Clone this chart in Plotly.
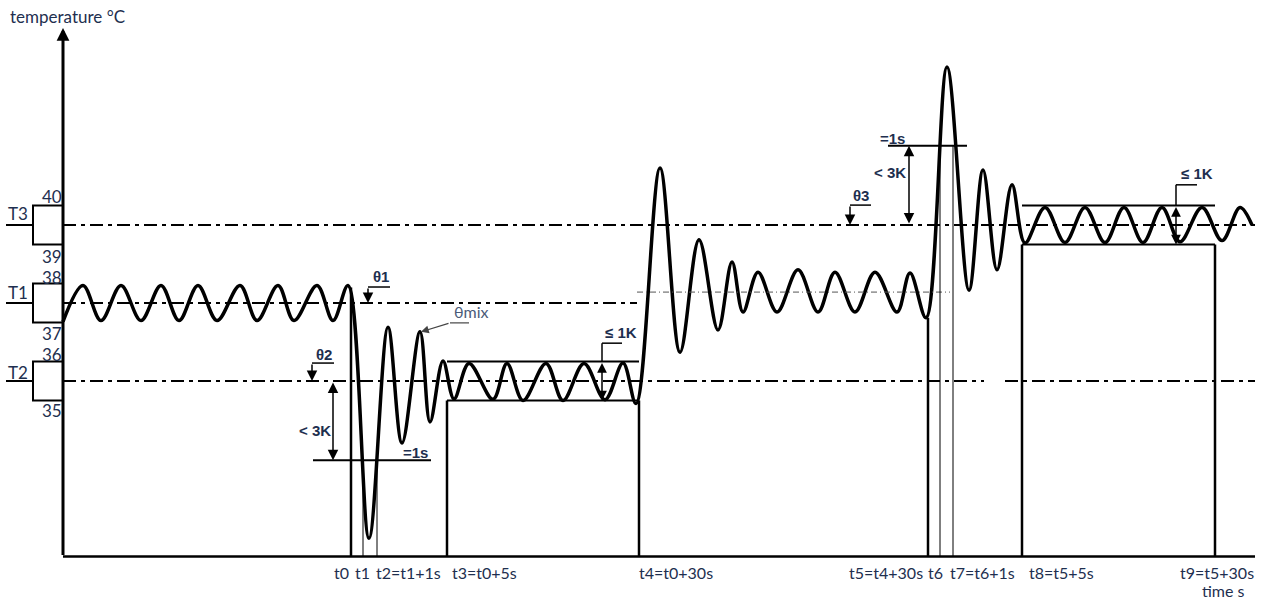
import plotly.graph_objects as go

W, H = 1265, 601

# ---------------- data ----------------
wave_time = [63, 83, 101, 121, 141, 161, 179, 198, 217, 240, 257, 278, 294, 317, 333, 348,
             369, 388, 402, 420, 430, 443, 454,
             469, 493, 507, 523, 546, 563, 584, 605, 623, 636,
             660, 680, 699, 718, 732, 743, 758, 777, 798, 818, 835, 855, 875, 897, 910, 926,
             947, 969, 983, 997, 1012, 1025,
             1045, 1065, 1085, 1105, 1124, 1143, 1162, 1180, 1202, 1222, 1240, 1252]
wave_temp = [37.02, 37.95, 37.05, 37.95, 37.05, 37.95, 37.05, 37.95, 37.05, 37.95, 37.05, 37.95, 37.05, 37.95, 37.05, 37.95,
             31.47, 36.88, 33.91, 36.76, 34.45, 36.01, 35.04,
             35.95, 35.03, 35.95, 35.0, 35.95, 35.0, 35.95, 35.02, 35.96, 34.92,
             40.96, 36.24, 39.12, 36.81, 38.55, 37.27, 38.29, 37.27, 38.35, 37.27, 38.29, 37.27, 38.29, 37.27, 38.27, 37.12,
             43.55, 37.83, 40.91, 38.35, 40.53, 39.04,
             39.95, 39.05, 39.95, 39.05, 39.95, 39.05, 39.95, 39.07, 39.95, 39.1, 39.95, 39.5]

T1, T2, T3 = 37.5, 35.5, 39.5
half_band = 0.5
mix_level = 37.78
temp_min, temp_max = 31.0, 44.55
time_min, time_max = 63, 1255
low_limit, high_limit = 33.47, 41.53

t_pos = [351, 363, 377, 447, 639, 928, 940, 953, 1022, 1215]
t_labels = ["t0", "t1", "t2=t1+1s", "t3=t0+5s", "t4=t0+30s", "t5=t4+30s", "t6", "t7=t6+1s", "t8=t5+5s", "t9=t5+30s"]
box_names = ["T3", "T1", "T2"]
box_levels = [T3, T1, T2]
box_hi = ["40", "38", "36"]
box_lo = ["39", "37", "35"]

# ---------------- styles ----------------
INK = "#1e2f4f"
DASHDOT = "13px,5px,4px,5px"
Y_RANGE = [29.859, 45.269]

fig = go.Figure()
fig.add_trace(go.Scatter(x=wave_time, y=wave_temp, mode="lines",
                         line=dict(color="black", width=3.5, shape="spline", smoothing=1.0),
                         hoverinfo="skip", showlegend=False))

shapes = []


def seg(x0, y0, x1, y1, width=2.0, dash=None, color="black"):
    d = dict(type="line", xref="x", yref="y", x0=x0, y0=y0, x1=x1, y1=y1,
             line=dict(color=color, width=width))
    if dash:
        d["line"]["dash"] = dash
    shapes.append(d)


# horizontal axis
seg(time_min, temp_min, time_max, temp_min, width=2.5)

# reference lines
seg(time_min, T3, time_max, T3, width=2, dash=DASHDOT)
seg(time_min, T1, t_pos[4] - 2, T1, width=2, dash=DASHDOT)
seg(time_min, T2, 984, T2, width=2, dash=DASHDOT)
seg(1005, T2, time_max, T2, width=2, dash=DASHDOT)
seg(t_pos[4] - 2, mix_level, 950, mix_level, width=1, dash="6px,3px,1px,3px", color="#555")

# left boxes
for lvl in box_levels:
    shapes.append(dict(type="rect", xref="x", yref="y", x0=33, x1=time_min,
                       y0=lvl - half_band, y1=lvl + half_band,
                       line=dict(color="black", width=2)))
    seg(6, lvl, 33, lvl, width=2)

# tolerance boxes
for a, b, lvl in [(t_pos[3], t_pos[4], T2), (t_pos[8], t_pos[9], T3)]:
    seg(a, lvl + half_band, b, lvl + half_band, width=2)
    seg(a, lvl - half_band, b, lvl - half_band, width=2)
    seg(a, lvl - half_band, a, temp_min, width=2.5)
    seg(b, lvl - half_band, b, temp_min, width=2.5)

# time marker lines
seg(t_pos[0], 37.9, t_pos[0], temp_min, width=2.5)
seg(t_pos[1], low_limit, t_pos[1], temp_min, width=1)
seg(t_pos[2], low_limit, t_pos[2], temp_min, width=1)
seg(t_pos[5], 37.12, t_pos[5], temp_min, width=2.5)
seg(t_pos[6], high_limit, t_pos[6], temp_min, width=1)
seg(t_pos[7], high_limit, t_pos[7], temp_min, width=1)

# 1 s limit lines
seg(313, low_limit, 431, low_limit, width=2)
seg(888, high_limit, 967, high_limit, width=2)

# theta leaders (underlines)
seg(368, 37.91, 390, 37.91, width=1.5)
seg(312, 35.96, 334, 35.96, width=1.5)
seg(850, 40.01, 871, 40.01, width=1.5)
# <=1K leaders
seg(602, 36.0, 602, 36.47, width=1.5)
seg(602, 36.47, 622, 36.47, width=1.5)
seg(1176, 40.0, 1176, 40.53, width=1.5)
seg(1176, 40.53, 1197, 40.53, width=1.5)
# theta mix leader
seg(450, 36.99, 469, 36.99, width=1.2, color="#444")

annotations = []


def arrow(x0, y0, x1, y1, width=1.5, size=1.3, double=False, color="black"):
    a = dict(x=x1, y=y1, ax=x0, ay=y0, xref="x", yref="y", axref="x", ayref="y",
             showarrow=True, arrowhead=2, arrowsize=size, arrowwidth=width,
             arrowcolor=color, text="", standoff=0)
    if double:
        a.update(arrowside="end+start", startarrowhead=2, startarrowsize=size, startstandoff=0)
    annotations.append(a)


# vertical axis with arrow
arrow(time_min, temp_min, time_min, temp_max, width=3, size=0.85)
# theta markers
arrow(368, 37.91, 368, T1, width=1.5, size=1.4)
arrow(312, 35.96, 312, T2, width=1.5, size=1.4)
arrow(850, 40.01, 850, T3, width=1.5, size=1.4)
# < 3K
arrow(333, T2, 333, low_limit, width=1.5, size=1.4, double=True)
arrow(909, T3, 909, high_limit, width=1.5, size=1.4, double=True)
# <= 1K
arrow(602, T2 + half_band, 602, T2 - half_band, width=1.5, size=1.3, double=True)
arrow(1176, T3 + half_band, 1176, T3 - half_band, width=1.5, size=1.3, double=True)
# theta mix
arrow(450, 36.99, 421, 36.76, width=1.2, size=1.3, color="#444")


def text(s, px, py, size=16, bold=False, color=INK, family="Lato", xanchor="center"):
    annotations.append(dict(text=("<b>%s</b>" % s) if bold else s, x=px / W, y=1 - py / H,
                            xref="paper", yref="paper", showarrow=False,
                            xanchor=xanchor, yanchor="middle",
                            font=dict(size=size, color=color, family=family)))


text("temperature °C", 8, 17, size=17, xanchor="left")
text("time s", 1223, 590, size=16)

label_x = [341, 362, 408, 484, 676, 886, 936, 982, 1061, 1217]
for lab, lx in zip(t_labels, label_x):
    text(lab, lx, 572, size=16)

box_py = [(213, 197, 256), (292, 277, 334), (372, 354, 411)]
for name, hi, lo, (pn, ph, pl) in zip(box_names, box_hi, box_lo, box_py):
    text(name, 18, pn, size=17)
    text(hi, 52, ph, size=17)
    text(lo, 52, pl, size=17)

BF = "Liberation Sans, Arial"
text("θ1", 381, 276, size=15, bold=True, family=BF)
text("θ2", 324, 354, size=15, bold=True, family=BF)
text("θ3", 861, 196, size=15, bold=True, family=BF)
text("&lt; 3K", 315, 430, size=15, bold=True, family=BF)
text("&lt; 3K", 890, 173, size=15, bold=True, family=BF)
text("=1s", 415, 452, size=15, bold=True, family=BF)
text("=1s", 892, 138, size=15, bold=True, family=BF)
text("≤ 1K", 621, 332, size=15, bold=True, family=BF)
text("≤ 1K", 1197, 174, size=15, bold=True, family=BF)
text("θmix", 471, 311, size=16, color="#4a5a78", family="Lato")

fig.update_layout(
    width=W, height=H, margin=dict(l=0, r=0, t=0, b=0),
    paper_bgcolor="white", plot_bgcolor="white",
    xaxis=dict(range=[0, W], visible=False, fixedrange=True),
    yaxis=dict(range=Y_RANGE, visible=False, fixedrange=True),
    shapes=shapes, annotations=annotations, showlegend=False,
)

fig.write_html("out.html", config={"displayModeBar": False},
               post_script="document.body.style.margin='0';document.body.style.overflow='hidden';")
